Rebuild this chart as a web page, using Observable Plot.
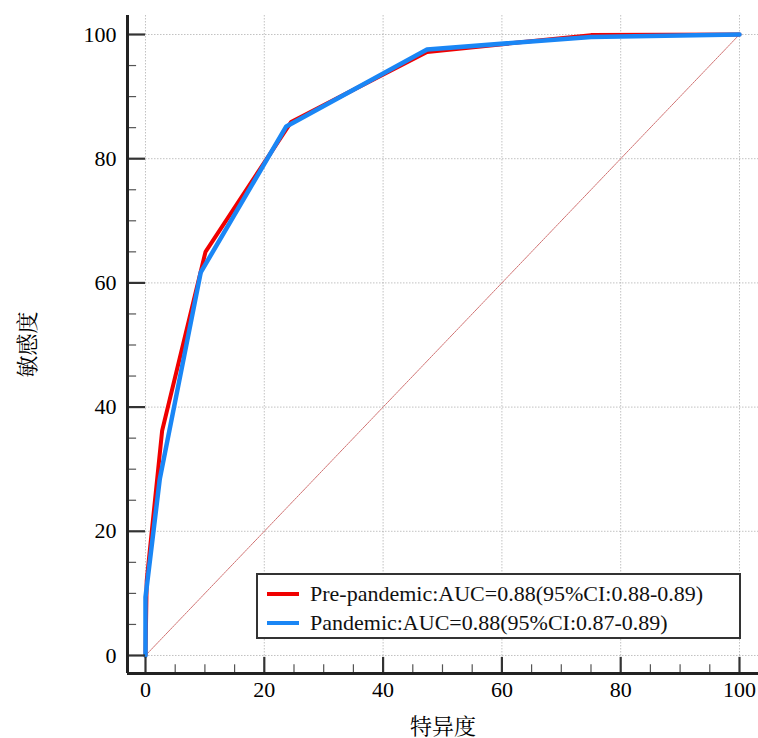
<!DOCTYPE html>
<html>
<head>
<meta charset="utf-8">
<script src="https://cdn.jsdelivr.net/npm/d3@7"></script>
<script src="https://cdn.jsdelivr.net/npm/@observablehq/plot@0.6"></script>
<style>
  html, body { margin: 0; padding: 0; background: #fff; }
  #wrap { position: relative; width: 758px; height: 738px; }
  #legend {
    position: absolute; left: 256px; top: 573px; width: 485px; height: 66px;
    border: 2px solid #333; box-sizing: border-box; background: #fff;
    font-family: "Liberation Serif", "Times New Roman", serif; font-size: 22px; color: #111;
  }
  .item { position: absolute; left: 9px; height: 26px; display: flex; align-items: center; white-space: nowrap; }
  .sw { width: 32px; height: 4px; margin-right: 11px; }
</style>
</head>
<body>
<div id="wrap"></div>
<script>
// Data
const series = ["Pre-pandemic", "Pandemic"];
const legendLabels = [
  "Pre-pandemic:AUC=0.88(95%CI:0.88-0.89)",
  "Pandemic:AUC=0.88(95%CI:0.87-0.89)"
];
const colors = ["#f00000", "#1a86f5"];
const preSpec = [0, 0.2, 2.8, 10.1, 24.5, 47.4, 75, 100];
const preSens = [0, 12, 36.2, 65.0, 85.9, 97.2, 99.9, 100];
const panSpec = [0, 0, 2.4, 9.3, 23.7, 47.4, 75, 100];
const panSens = [0, 9.4, 28.4, 61.7, 85.2, 97.6, 99.6, 100];
const majorTicks = [0, 20, 40, 60, 80, 100];
const minorTicks = d3.range(0, 101, 5).filter(v => v % 20 !== 0);
const xLabel = "特异度";
const yLabel = "敏感度";

const xMin = -3.03, xMax = 103.2, yMin = -2.9, yMax = 103.06;

const pre = preSpec.map((x, i) => ({x, y: preSens[i]}));
const pan = panSpec.map((x, i) => ({x, y: panSens[i]}));

const font = "'Liberation Serif', 'Times New Roman', 'Noto Serif CJK SC', 'Noto Sans CJK SC', serif";

const chart = Plot.plot({
  width: 758,
  height: 738,
  marginLeft: 127,
  marginRight: 0,
  marginTop: 15,
  marginBottom: 65,
  style: {fontFamily: font, background: "#fff"},
  x: {domain: [xMin, xMax]},
  y: {domain: [yMin, yMax]},
  marks: [
    Plot.gridX(majorTicks, {stroke: "#999", strokeOpacity: 0.6, strokeDasharray: "1.5,1.5", strokeWidth: 1}),
    Plot.gridY(majorTicks, {stroke: "#999", strokeOpacity: 0.6, strokeDasharray: "1.5,1.5", strokeWidth: 1}),
    Plot.line([{x: 0, y: 0}, {x: 100, y: 100}], {x: "x", y: "y", stroke: "#d07070", strokeWidth: 1, strokeDasharray: "2,1"}),
    Plot.line(pre, {x: "x", y: "y", stroke: colors[0], strokeWidth: 4, strokeLinejoin: "miter"}),
    Plot.line(pan, {x: "x", y: "y", stroke: colors[1], strokeWidth: 4.5, strokeLinejoin: "miter"}),
    // tick marks (inward)
    Plot.ruleY(majorTicks, {x1: xMin, x2: 0, stroke: "#333", strokeWidth: 2.2}),
    Plot.ruleY(minorTicks, {x1: xMin, x2: -1.5, stroke: "#555", strokeWidth: 1.2}),
    Plot.ruleX(majorTicks, {y1: yMin, y2: -0.3, stroke: "#333", strokeWidth: 2.2}),
    Plot.ruleX(minorTicks, {y1: yMin, y2: -1.5, stroke: "#555", strokeWidth: 1.2}),
    // spines
    Plot.ruleX([xMin], {stroke: "#222", strokeWidth: 3}),
    Plot.ruleY([yMin], {stroke: "#222", strokeWidth: 3}),
    Plot.axisX(majorTicks, {tickSize: 0, tickPadding: 8, fontSize: 22, label: xLabel, labelAnchor: "center", labelOffset: 60, labelArrow: "none", fontFamily: font}),
    Plot.axisY(majorTicks, {tickSize: 0, tickPadding: 11, fontSize: 22, label: yLabel, labelAnchor: "center", labelOffset: 108, labelArrow: "none", fontFamily: font})
  ]
});

const wrap = document.getElementById("wrap");
wrap.appendChild(chart);

const legend = document.createElement("div");
legend.id = "legend";
legendLabels.forEach((t, i) => {
  const item = document.createElement("div");
  item.className = "item";
  item.style.top = (6 + i * 29) + "px";
  const sw = document.createElement("span");
  sw.className = "sw";
  sw.style.background = colors[i];
  const tx = document.createElement("span");
  tx.textContent = t;
  item.appendChild(sw);
  item.appendChild(tx);
  legend.appendChild(item);
});
wrap.appendChild(legend);
</script>
</body>
</html>
